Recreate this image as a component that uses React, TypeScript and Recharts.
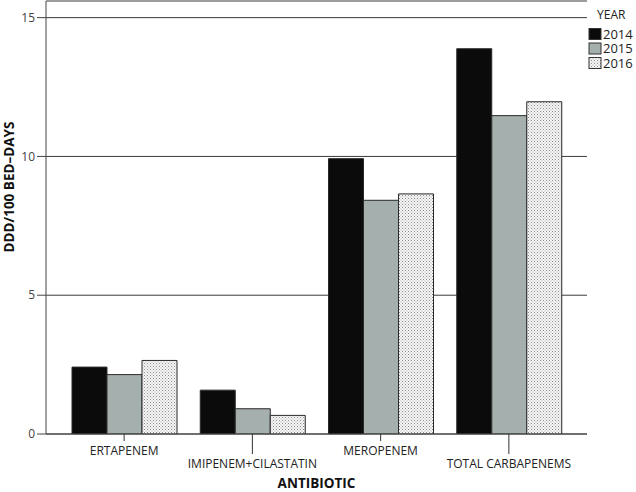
import { BarChart, Bar, XAxis, YAxis, CartesianGrid } from "recharts";

const categories = ["ERTAPENEM", "IMIPENEM+CILASTATIN", "MEROPENEM", "TOTAL CARBAPENEMS"];
const years = ["2014", "2015", "2016"];
const values2014 = [2.41, 1.58, 9.92, 13.88];
const values2015 = [2.14, 0.91, 8.42, 11.47];
const values2016 = [2.65, 0.67, 8.65, 11.97];
const yTicks = [0, 5, 10, 15];

const data = categories.map((name, i) => ({
  name,
  "2014": values2014[i],
  "2015": values2015[i],
  "2016": values2016[i],
}));

const FONT = "'Open Sans', sans-serif";
const FILLS: Record<string, string> = {
  "2014": "#0b0b0b",
  "2015": "#a5afad",
  "2016": "url(#dots)",
};

const DotsPattern = ({ id }: { id: string }) => (
  <pattern id={id} patternUnits="userSpaceOnUse" width={3} height={3}>
    <rect width={3} height={3} fill="#f6f6f6" />
    <rect x={0} y={0} width={1} height={1} fill="#8c8c8c" />
    <rect x={1.5} y={1.5} width={1} height={1} fill="#a8a8a8" />
  </pattern>
);

// staggered category labels: every second one hangs lower on a longer tick
const CategoryTick = (props: any) => {
  const { x, y, payload, index } = props;
  const len = index % 2 === 1 ? 20 : 7;
  return (
    <g>
      <line x1={x} y1={y} x2={x} y2={y + len} stroke="#333" />
      <text
        x={x}
        y={y + len + 9}
        textAnchor="middle"
        dominantBaseline="central"
        fontFamily={FONT}
        fontSize={12}
        fill="#222"
      >
        {payload.value}
      </text>
    </g>
  );
};

const YearLegend = () => (
  <svg width={48} height={80} style={{ position: "absolute", left: 588, top: 0 }}>
    <defs>
      <DotsPattern id="dots-legend" />
    </defs>
    <text x={9} y={18.5} fontFamily={FONT} fontSize={12} fill="#222">
      YEAR
    </text>
    {years.map((yr, i) => (
      <g key={yr}>
        <rect
          x={1}
          y={28.5 + i * 14.5}
          width={12}
          height={11}
          fill={yr === "2016" ? "url(#dots-legend)" : FILLS[yr]}
          stroke="#333"
        />
        <text x={15} y={38.5 + i * 14.5} fontFamily={FONT} fontSize={13} fill="#222">
          {yr}
        </text>
      </g>
    ))}
  </svg>
);

export default function App() {
  return (
    <div style={{ position: "absolute", left: 0, top: 0, width: 636, height: 492, background: "#fff" }}>
      <BarChart
        width={636}
        height={492}
        data={data}
        margin={{ top: 1, right: 49, bottom: 0, left: 0 }}
        barGap={0}
        barCategoryGap={12}
      >
        <defs>
          <DotsPattern id="dots" />
        </defs>
        <CartesianGrid vertical={false} stroke="#3a3a3a" />
        <XAxis
          dataKey="name"
          height={58}
          interval={0}
          padding={{ left: 14, right: 14 }}
          tickLine={false}
          tickSize={0}
          tickMargin={0}
          tick={<CategoryTick />}
          axisLine={{ stroke: "#444" }}
          label={{
            value: "ANTIBIOTIC",
            position: "insideBottom",
            offset: 4,
            fontFamily: FONT,
            fontSize: 13.5,
            fontWeight: 700,
            fill: "#111",
          }}
        />
        <XAxis
          xAxisId="top"
          dataKey="name"
          orientation="top"
          height={0}
          tick={false}
          tickLine={false}
          axisLine={{ stroke: "#444" }}
        />
        <YAxis
          width={46}
          domain={[0, 15.6]}
          ticks={yTicks}
          allowDataOverflow
          tickSize={9}
          tickMargin={2}
          axisLine={{ stroke: "#444" }}
          tickLine={{ stroke: "#444" }}
          tick={{ fontFamily: FONT, fontSize: 12, fill: "#444" }}
        />
        <YAxis
          yAxisId="right"
          orientation="right"
          width={0}
          tick={false}
          tickLine={false}
          axisLine={{ stroke: "#444" }}
        />
        {years.map((yr) => (
          <Bar
            key={yr}
            dataKey={yr}
            fill={FILLS[yr]}
            stroke="#2a2a2a"
            strokeWidth={1}
            isAnimationActive={false}
          />
        ))}
        <text
          x={9}
          y={187}
          transform="rotate(-90 9 187)"
          textAnchor="middle"
          dominantBaseline="central"
          fontFamily={FONT}
          fontSize={13.5}
          fontWeight={700}
          fill="#111"
        >
          DDD/100 BED–DAYS
        </text>
      </BarChart>
      <YearLegend />
    </div>
  );
}
